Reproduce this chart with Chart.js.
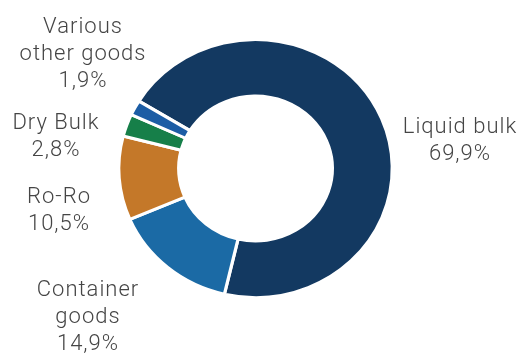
<!DOCTYPE html>
<html>
<head>
<meta charset="utf-8">
<script src="https://cdn.jsdelivr.net/npm/chart.js@4.4.1/dist/chart.umd.min.js"></script>
<style>
  html, body { margin: 0; padding: 0; background: #fff; }
  #wrap { width: 521px; height: 354px; }
</style>
</head>
<body>
<div id="wrap"><canvas id="c" width="521" height="354"></canvas></div>
<script>
// data
var categories = ["Liquid bulk", "Container goods", "Ro-Ro", "Dry Bulk", "Various other goods"];
var shares = [69.9, 14.9, 10.5, 2.8, 1.9];
var labelLines = [
    ["Liquid bulk"],
    ["Container", "goods"],
    ["Ro-Ro"],
    ["Dry Bulk"],
    ["Various", "other goods"]
];
var colors = ["#133961", "#1b6aa5", "#c47829", "#167f49", "#1c5da5"];

// where each label block sits (center x, first line middle y)
var labelPos = [[460, 127], [88, 290], [59, 197], [56, 123], [83, 27]];
var lineHeight = 27;
// the source ring is a bit wider than it is tall
var stretchX = 1.06;

var fmt = function (v) {
    return v.toFixed(1).replace(".", ",") + "%";
};

var widenRing = {
    id: "widenRing",
    beforeDatasetsDraw: function (chart) {
        var a = chart.chartArea;
        var cx = (a.left + a.right) / 2;
        var ctx = chart.ctx;
        ctx.save();
        ctx.translate(cx, 0);
        ctx.scale(stretchX, 1);
        ctx.translate(-cx, 0);
    },
    afterDatasetsDraw: function (chart) {
        chart.ctx.restore();
    }
};

var outsideLabels = {
    id: "outsideLabels",
    afterDraw: function (chart) {
        var ctx = chart.ctx;
        ctx.save();
        ctx.font = "300 22px Roboto";
        ctx.letterSpacing = "1px";
        ctx.fillStyle = "#454545";
        ctx.textAlign = "center";
        ctx.textBaseline = "middle";
        for (var i = 0; i < categories.length; i++) {
            var lines = labelLines[i].concat([fmt(shares[i])]);
            var p = labelPos[i];
            for (var j = 0; j < lines.length; j++) {
                ctx.fillText(lines[j], p[0], p[1] + j * lineHeight);
            }
        }
        ctx.restore();
    }
};

new Chart(document.getElementById("c"), {
    type: "doughnut",
    data: {
        labels: categories,
        datasets: [{
            data: shares,
            backgroundColor: colors,
            borderColor: "#ffffff",
            borderWidth: 3,
            clip: false
        }]
    },
    options: {
        responsive: false,
        animation: false,
        rotation: -58.5,
        cutout: 72.5,
        layout: { padding: { left: 125, right: 135, top: 38, bottom: 55 } },
        plugins: {
            legend: { display: false },
            tooltip: { enabled: false }
        }
    },
    plugins: [widenRing, outsideLabels]
});
</script>
</body>
</html>
